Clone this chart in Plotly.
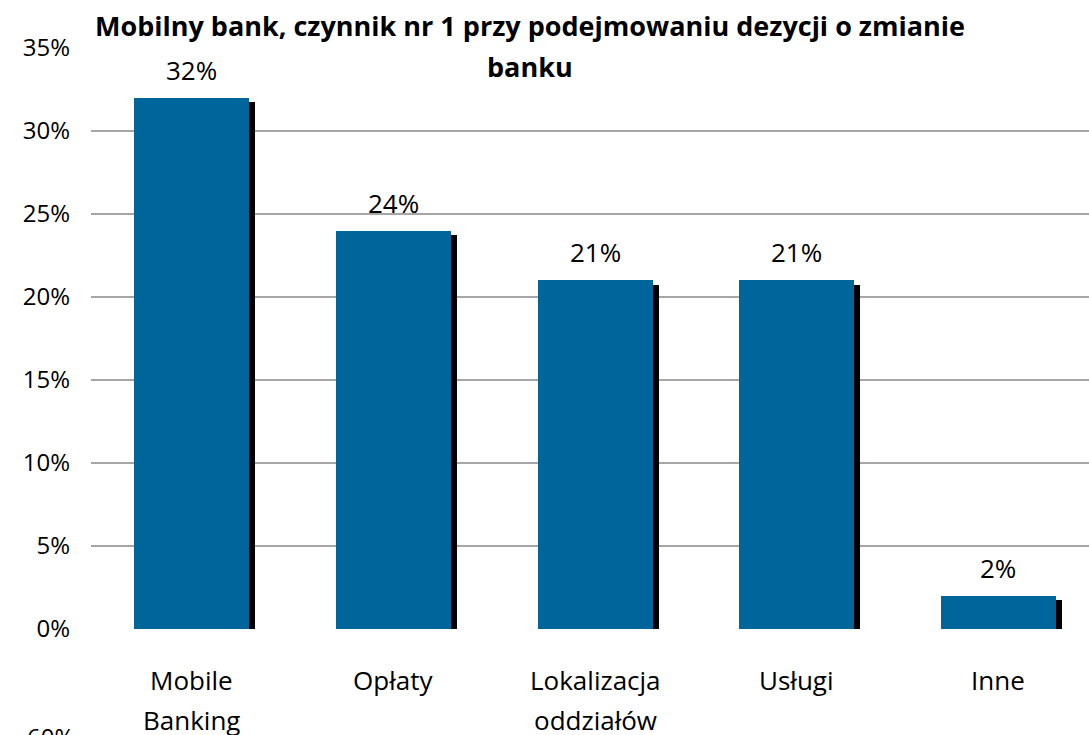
import plotly.graph_objects as go

categories = ["Mobile Banking", "Opłaty", "Lokalizacja oddziałów", "Usługi", "Inne"]
label_lines = [["Mobile", "Banking"], ["Opłaty"], ["Lokalizacja", "oddziałów"], ["Usługi"], ["Inne"]]
values = [32, 24, 21, 21, 2]
y_ticks = [0, 5, 10, 15, 20, 25, 30, 35]
title_lines = ["Mobilny bank, czynnik nr 1 przy podejmowaniu dezycji o zmianie", "banku"]

FONT = "Open Sans, sans-serif"
BLUE = "#00659A"
W, H = 1089, 735
ML, MT, MB = 91, 48, 106
PW, PH = W - ML, H - MT - MB
x = list(range(len(categories)))


def px(xp):
    return (xp - ML) / PW


def py(yp):
    return (H - MB - yp) / PH


fig = go.Figure()
# shadow bars
fig.add_trace(go.Bar(x=x, y=[v - 0.25 for v in values], width=0.57, offset=-0.285 + 0.03,
                     marker=dict(color="black", line=dict(width=0)), hoverinfo="skip", showlegend=False))
# main bars
fig.add_trace(go.Bar(x=x, y=values, width=0.57, offset=-0.285,
                     marker=dict(color=BLUE, line=dict(width=0)), showlegend=False))

annotations = []
for i, v in enumerate(values):
    annotations.append(dict(x=i, y=v, xref="x", yref="y", text=f"{v}%", showarrow=False,
                            yshift=28, font=dict(family=FONT, size=26, color="black")))
for i, lines in enumerate(label_lines):
    for j, ln in enumerate(lines):
        annotations.append(dict(x=i, y=0, xref="x", yref="y", text=ln, showarrow=False,
                                yshift=-51 - 40 * j, font=dict(family=FONT, size=26, color="black")))
annotations.append(dict(x=px(530), y=py(25), xref="paper", yref="paper", text=f"<b>{title_lines[0]}</b>",
                        showarrow=False, xanchor="center", yanchor="middle",
                        font=dict(family=FONT, size=27, color="black")))
annotations.append(dict(x=px(530), y=py(67), xref="paper", yref="paper", text=f"<b>{title_lines[1]}</b>",
                        showarrow=False, xanchor="center", yanchor="middle",
                        font=dict(family=FONT, size=27, color="black")))
annotations.append(dict(x=px(76), y=py(718), xref="paper", yref="paper", text="60%",
                        showarrow=False, xanchor="right", yanchor="top",
                        font=dict(family=FONT, size=24, color="black")))

fig.update_layout(
    width=W, height=H,
    margin=dict(l=ML, r=0, t=MT, b=MB, pad=0),
    plot_bgcolor="white", paper_bgcolor="white",
    barmode="overlay", bargap=0,
    annotations=annotations,
    xaxis=dict(range=[-0.5, 4.45], showticklabels=False, showgrid=False, zeroline=False,
               showline=False, ticks=""),
    yaxis=dict(range=[0, 35], tickvals=y_ticks, ticktext=[f"{t}%" for t in y_ticks],
               showgrid=True, gridcolor="#A6A6A6", gridwidth=1.5, zeroline=False, showline=False,
               ticks="", ticklabelstandoff=20,
               tickfont=dict(family=FONT, size=24, color="black")),
)

fig.write_html("out.html", config={"displayModeBar": False},
               post_script="document.body.style.margin='0';document.body.style.overflow='hidden';")
